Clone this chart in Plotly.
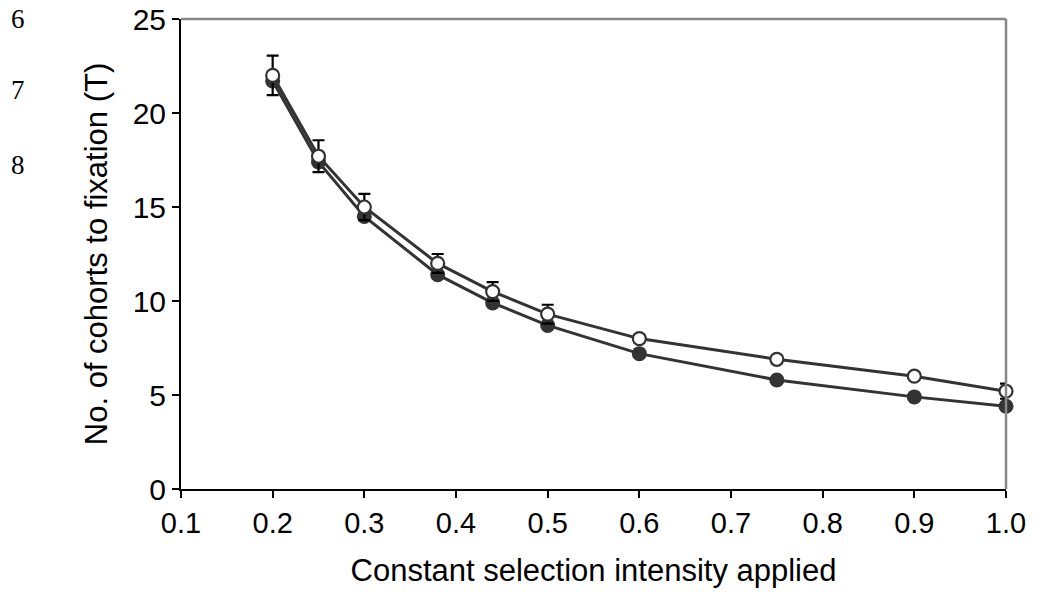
import plotly.graph_objects as go

intensity = [0.2, 0.25, 0.3, 0.38, 0.44, 0.5, 0.6, 0.75, 0.9, 1.0]
t_open = [22.0, 17.7, 15.0, 12.0, 10.5, 9.3, 8.0, 6.9, 6.0, 5.2]
t_open_err = [1.05, 0.85, 0.7, 0.5, 0.5, 0.5, 0.2, 0.2, 0.15, 0.4]
t_filled = [21.7, 17.4, 14.5, 11.4, 9.9, 8.7, 7.2, 5.8, 4.9, 4.4]
line_numbers = ["6", "7", "8"]
line_number_y = [19, 90, 165]

x_ticks = [0.1, 0.2, 0.3, 0.4, 0.5, 0.6, 0.7, 0.8, 0.9, 1.0]
y_ticks = [0, 5, 10, 15, 20, 25]

dark = "#333333"
fig = go.Figure()
fig.add_trace(go.Scatter(
    x=intensity, y=t_filled, mode="lines+markers",
    line=dict(color=dark, width=3),
    marker=dict(symbol="circle", size=15, color=dark),
    cliponaxis=False, showlegend=False))
fig.add_trace(go.Scatter(
    x=intensity, y=t_open, mode="lines+markers",
    line=dict(color=dark, width=3),
    marker=dict(symbol="circle", size=13, color="white", line=dict(color=dark, width=2.2)),
    error_y=dict(type="data", array=t_open_err, color="black", thickness=2.2, width=6),
    cliponaxis=False, showlegend=False))

font_axis = "Liberation Sans, Arial, sans-serif"
fig.update_layout(
    width=1037, height=592,
    margin=dict(l=181, r=31, t=19, b=103, autoexpand=False),
    paper_bgcolor="white", plot_bgcolor="white",
    xaxis=dict(range=[0.1, 1.0], tickvals=x_ticks, tickformat=".1f", automargin=False,
               showgrid=False, zeroline=False, showline=True, linecolor="black", linewidth=2,
               ticks="outside", ticklen=7, tickwidth=1.5, tickcolor="black",
               tickfont=dict(family=font_axis, size=29, color="black"),
               title=dict(text="Constant selection intensity applied",
                          font=dict(family=font_axis, size=31, color="black"), standoff=22)),
    yaxis=dict(range=[0, 25], tickvals=y_ticks, automargin=False,
               showgrid=False, zeroline=False, showline=True, linecolor="black", linewidth=2,
               ticks="outside", ticklen=7, tickwidth=1.5, tickcolor="black",
               tickfont=dict(family=font_axis, size=30, color="black"),
               title=dict(text="No. of cohorts to fixation (T)",
                          font=dict(family=font_axis, size=31, color="black"), standoff=16)),
    shapes=[
        dict(type="line", xref="paper", yref="paper", x0=0, x1=1, y0=1, y1=1,
             line=dict(color="#888888", width=2.5)),
        dict(type="line", xref="paper", yref="paper", x0=1, x1=1, y0=0, y1=1,
             line=dict(color="#888888", width=2.5)),
    ],
)
for txt, yp in zip(line_numbers, line_number_y):
    fig.add_annotation(text=txt, xref="paper", yref="paper",
                       x=(18 - 181) / 825, y=1 - (yp - 19) / 470,
                       xanchor="center", yanchor="middle", showarrow=False,
                       font=dict(family="Liberation Serif, Times New Roman, serif", size=27, color="black"))

fig.write_html("out.html", config={"displayModeBar": False},
               post_script="document.body.style.margin='0';")
